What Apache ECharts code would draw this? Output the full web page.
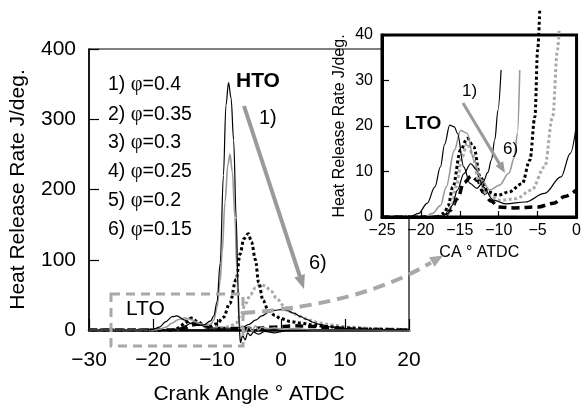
<!DOCTYPE html>
<html><head><meta charset="utf-8">
<script src="https://cdn.jsdelivr.net/npm/echarts@6/dist/echarts.min.js"></script>
<style>html,body{margin:0;padding:0;background:#fff}#c{width:584px;height:410px}</style>
</head><body><div id="c"></div>
<script>
// ---- legend / tick data ----
const legendLabels = ['1) {p|φ}=0.4', '2) {p|φ}=0.35', '3) {p|φ}=0.3', '4) {p|φ}=0.25', '5) {p|φ}=0.2', '6) {p|φ}=0.15'];
const mainXTicks = [-30, -20, -10, 0, 10, 20];
const mainYTicks = [0, 100, 200, 300, 400];
const insetXTicks = [-25, -20, -15, -10, -5, 0];
const insetYTicks = [0, 10, 20, 30, 40];

// ---- main chart: crank angle (deg ATDC) and heat release rate (J/deg) ----
const ca1 = [-30, -24, -21, -20, -19, -18, -17, -16.3, -15, -14, -13, -12, -11, -10.5, -10, -9.5, -9, -8.6, -8.2, -7.8, -7.4, -7, -6.7, -6.5, -6.35, -6, -5.6, -5.2, -4.8, -4.3, -3.5, -2.5, -1, 1, 5, 10, 20];
const hrr1 = [0, 0, 0, 1, 4, 12, 19, 20, 14, 9, 6.5, 7.5, 13, 20, 40, 95, 220, 320, 352, 330, 270, 160, 60, 0, -18, -8, -14, -4, -8, -3, -6, -2, -4, -1, 0, 0, 0];

const ca2 = [-30, -20, -19, -18, -17, -16, -15, -14, -13, -12, -11, -10.5, -10, -9.5, -9.2, -8.75, -8.3, -7.97, -7.6, -7.2, -6.9, -6.6, -6.4, -6, -5.6, -5, -4.5, -4, -3.5, -3, -2, -1, 0, 2, 5, 10, 20, 30];
const hrr2 = [0, 0, 1, 4, 10, 15, 17, 15, 10, 7, 8, 14, 32, 70, 110, 182, 235, 250, 225, 160, 88, 20, 2, 6, -3, 5, -2, 6, 0, 4, 2, 3, 1, 2, 0, 0, -1, -1];

const ca3 = [-30, -17, -16, -15, -14, -13, -12, -11, -10, -9, -8, -7, -6.4, -5.8, -5.1, -4.6, -4, -3.5, -2.8, -2, -1, 0, 1.5, 3, 5, 7, 10, 14, 20];
const hrr3 = [0, 0, 3, 10, 17, 12, 6, 6, 9, 18, 38, 72, 108, 130, 137, 125, 100, 68, 42, 28, 21, 16, 12, 10, 7, 5, 3, 1, 0];

const ca4 = [-30, -16.5, -15.5, -14.5, -14, -13, -12, -11, -10, -9, -8, -7, -6.3, -5.5, -4.8, -4, -3.2, -2.5, -1.5, -0.7, 0.5, 1.5, 3, 4.5, 6, 8, 11, 15, 20];
const hrr4 = [0, 0, 6, 14, 16, 11, 6, 4, 3.5, 3.5, 5, 10, 22, 38, 50, 60, 65, 63, 55, 45, 34, 26, 19, 14, 10, 7, 4, 2, 0.5];

const ca5 = [-30, -17, -16, -15, -14, -13.6, -13, -12, -11, -10, -8, -7, -6, -5, -4, -3, -2, -1, 0, 1, 2, 3, 4, 5, 6, 8, 10, 14, 20];
const hrr5 = [0, 0, 2, 6, 10, 11.5, 9, 5.5, 3, 2.5, 2.5, 3, 4, 8, 14, 20, 25, 28, 29, 27.5, 24, 19.5, 15, 11, 8, 4, 2, 0.8, 0];

const ca6 = [-30, -16, -15, -14, -13, -12, -11, -10, -5, -1, 2, 5, 8, 12, 20];
const hrr6 = [0, 0, 3, 7, 8.5, 5, 3, 2, 2, 4, 6, 5, 3, 1, 0];

// ---- inset (LTO close-up) ----
const ica1 = [-25, -21.5, -20.3, -19.2, -18.2, -17.5, -16.95, -16.3, -15.7, -15.3, -14.5, -13.7, -12.8, -12, -11.4, -10.95, -10.5, -10.1, -9.7];
const ihrr1 = [0, 0, 0.8, 3, 6.6, 11, 16, 20.2, 19.8, 18.4, 11, 7.4, 6.3, 7.7, 9.8, 12.5, 17, 23.5, 32.3];
const ica2 = [-25, -19.5, -18.5, -17.5, -16.75, -15.7, -14.9, -14.05, -13.2, -12.2, -11.15, -9.9, -8.7, -8, -7.6, -7.3];
const ihrr2 = [0, 0, 0.8, 2.5, 6.6, 14.7, 19, 18.4, 12.5, 8.1, 5.9, 7, 9.6, 13, 18.4, 32.3];
const ica3 = [-25, -18, -17, -16.5, -15.9, -14.9, -14.05, -13.2, -12.4, -11.35, -10.1, -8.7, -7, -6, -5.35, -5, -4.73];
const ihrr3 = [0, 0, 0.8, 2.5, 6.6, 14.7, 17.3, 15.4, 8.8, 5.5, 4.8, 5.5, 7.3, 12.5, 22, 36.7, 45.5];
const ica4 = [-25, -17.5, -16.5, -16, -15.5, -14.7, -14.05, -13.4, -12.6, -11.6, -9.9, -7.8, -5.8, -4.1, -3.07, -2.45, -2.24];
const ihrr4 = [0, 0, 0.8, 2.5, 6.6, 13.2, 16.2, 14, 8.1, 5.2, 3.7, 4, 5.9, 11, 22, 36.7, 41];
const ica5 = [-25, -17.5, -16.5, -16, -15.3, -14.5, -13.6, -12.8, -12, -10.7, -9.1, -6.6, -4.1, -2, -0.8, 0];
const ihrr5 = [0, 0, 0.8, 2.5, 5.9, 9.5, 11.7, 10.3, 6.6, 3.7, 2.9, 3.3, 5.2, 8.8, 14, 20.5];
const ica6 = [-25, -17, -16.2, -15.3, -14.5, -13.5, -12.7, -12, -11, -10, -8, -5, -3, -1.5, 0];
const ihrr6 = [0, 0, 1.5, 4, 7.5, 9, 8, 5.5, 3.5, 2.2, 2, 2.2, 3, 4.5, 6];

const FONT = '"Liberation Sans", Arial, Helvetica, sans-serif';
const GREY = '#9a9a9a';
const zip = (xs, ys) => xs.map((x, i) => [x, ys[i]]);
const minus = v => String(v).replace('-', '\u2212');

const styles = [
  { color: '#000', width: 1.2, type: 'solid', z: 7 },
  { color: '#999', width: 1.6, type: 'solid', z: 6 },
  { color: '#000', width: 3, type: [3, 2.5], z: 5 },
  { color: '#aaa', width: 3, type: [3, 2.5], z: 4 },
  { color: '#000', width: 1.2, type: 'solid', z: 5 },
  { color: '#000', width: 3.5, type: [8, 5], z: 3 }
];
const mainData = [zip(ca1, hrr1), zip(ca2, hrr2), zip(ca3, hrr3), zip(ca4, hrr4), zip(ca5, hrr5), zip(ca6, hrr6)];
const insetData = [zip(ica1, ihrr1), zip(ica2, ihrr2), zip(ica3, ihrr3), zip(ica4, ihrr4), zip(ica5, ihrr5), zip(ica6, ihrr6)];

const series = [];
mainData.forEach((d, i) => series.push({
  type: 'line', xAxisIndex: 0, yAxisIndex: 0, data: d, showSymbol: false, symbol: 'none',
  smooth: 0.35, smoothMonotone: 'x', clip: false, z: styles[i].z, animation: false,
  lineStyle: { color: styles[i].color, width: styles[i].width, type: styles[i].type }
}));
insetData.forEach((d, i) => series.push({
  type: 'line', xAxisIndex: 1, yAxisIndex: 1, data: d, showSymbol: false, symbol: 'none',
  smooth: 0.35, smoothMonotone: 'x', clip: false, z: 20 + styles[i].z, animation: false,
  lineStyle: { color: styles[i].color, width: styles[i].width, type: styles[i].type }
}));

function arrowHead(x1, y1, x2, y2, len, w) {
  const a = Math.atan2(y2 - y1, x2 - x1);
  const bx = x2 - len * Math.cos(a), by = y2 - len * Math.sin(a);
  const px = -Math.sin(a) * w / 2, py = Math.cos(a) * w / 2;
  return [[x2, y2], [bx + px, by + py], [bx - px, by - py]];
}
function arrowStop(x1, y1, x2, y2, len) {
  const a = Math.atan2(y2 - y1, x2 - x1);
  return [x2 - len * Math.cos(a), y2 - len * Math.sin(a)];
}
function txt(text, x, y, size, weight, extra) {
  return { type: 'text', z: 50, style: Object.assign({ text, x, y, fontSize: size, fontFamily: FONT,
    fontWeight: weight || 'normal', fill: '#000', verticalAlign: 'middle', align: 'left' }, extra || {}) };
}

const graphics = [];
const legendY = [85, 115, 143, 172, 201, 230];
legendLabels.forEach((t, i) => graphics.push(txt(t, 108, legendY[i], 19.5, 'normal',
  { rich: { p: { fontFamily: '"Liberation Serif", "Times New Roman", serif', fontSize: 20.5 } } })));
graphics.push(txt('HTO', 236, 81, 21, 'bold'));
graphics.push(txt('1)', 259, 118, 20));
graphics.push(txt('6)', 309, 263, 20));
graphics.push(txt('LTO', 126, 309, 21));
graphics.push(txt('LTO', 405, 124, 19, 'bold'));
graphics.push(txt('1)', 462, 91, 17));
graphics.push(txt('6)', 503, 149, 17));

// main grey arrow
(function () {
  const s = arrowStop(244, 106, 304, 289, 10);
  graphics.push({ type: 'line', z: 40, shape: { x1: 244, y1: 106, x2: s[0], y2: s[1] }, style: { stroke: GREY, lineWidth: 4 } });
  graphics.push({ type: 'polygon', z: 40, shape: { points: arrowHead(244, 106, 304, 289, 14, 11) }, style: { fill: GREY } });
})();
// inset grey arrow
(function () {
  const s = arrowStop(463, 103, 505, 173, 8);
  graphics.push({ type: 'line', z: 40, shape: { x1: 463, y1: 103, x2: s[0], y2: s[1] }, style: { stroke: GREY, lineWidth: 3 } });
  graphics.push({ type: 'polygon', z: 40, shape: { points: arrowHead(463, 103, 505, 173, 11, 9) }, style: { fill: GREY } });
})();
// dashed rectangle around LTO
graphics.push({ type: 'rect', z: 40, shape: { x: 111, y: 294, width: 132, height: 52 },
  style: { fill: null, stroke: '#a8a8a8', lineWidth: 3, lineDash: [9, 6] } });
// curved dashed arrow to inset
(function () {
  const sx = 243, sy = 313, cx = 360, cy = 305, ex = 437, ey = 259;
  graphics.push({ type: 'bezierCurve', z: 40, shape: { x1: sx, y1: sy, cpx1: cx, cpy1: cy, x2: ex - 6, y2: ey + 3.6 },
    style: { fill: null, stroke: '#a8a8a8', lineWidth: 4, lineDash: [12, 7] } });
  graphics.push({ type: 'polygon', z: 40, shape: { points: arrowHead(cx, cy, ex + 6, ey - 3.6, 13, 11) }, style: { fill: '#a8a8a8' } });
})();

const axisText = { color: '#000', fontFamily: FONT };
const option = {
  animation: false,
  backgroundColor: '#fff',
  grid: [
    { left: 88, top: 49, width: 321, height: 283, show: true, borderColor: '#000', borderWidth: 1.2, z: 0 },
    { left: 382, top: 35, width: 201, height: 182, show: true, backgroundColor: '#fff', borderColor: '#000', borderWidth: 3, z: 10 }
  ],
  xAxis: [
    { gridIndex: 0, type: 'value', min: mainXTicks[0], max: mainXTicks[mainXTicks.length - 1], interval: 10,
      axisLine: { show: true, onZero: false, lineStyle: { color: '#000', width: 2.5 } },
      axisTick: { show: true, inside: true, length: 11, lineStyle: { color: '#000', width: 1.2 } },
      axisLabel: Object.assign({ fontSize: 21, margin: 20, formatter: minus }, axisText),
      splitLine: { show: false },
      name: 'Crank Angle \u00b0 ATDC', nameLocation: 'middle', nameGap: 54,
      nameTextStyle: Object.assign({ fontSize: 21 }, axisText) },
    { gridIndex: 1, type: 'value', min: insetXTicks[0], max: insetXTicks[insetXTicks.length - 1], interval: 5, z: 30,
      axisLine: { show: true, onZero: false, lineStyle: { color: '#000', width: 3 } },
      axisTick: { show: true, inside: true, length: 6, lineStyle: { color: '#000', width: 1.2 } },
      axisLabel: Object.assign({ fontSize: 16, margin: 6, formatter: minus }, axisText),
      splitLine: { show: false },
      name: 'CA \u00b0 ATDC', nameLocation: 'middle', nameGap: 28,
      nameTextStyle: Object.assign({ fontSize: 16 }, axisText) }
  ],
  yAxis: [
    { gridIndex: 0, type: 'value', min: mainYTicks[0], max: mainYTicks[mainYTicks.length - 1], interval: 100,
      axisLine: { show: true, onZero: false, lineStyle: { color: '#000', width: 1.5 } },
      axisTick: { show: true, inside: true, length: 10, lineStyle: { color: '#000', width: 1.2 } },
      axisLabel: Object.assign({ fontSize: 21, margin: 13 }, axisText),
      splitLine: { show: false },
      name: 'Heat Release Rate J/deg.', nameLocation: 'middle', nameGap: 60, nameRotate: 90,
      nameTextStyle: Object.assign({ fontSize: 21 }, axisText) },
    { gridIndex: 1, type: 'value', min: insetYTicks[0], max: insetYTicks[insetYTicks.length - 1], interval: 10, z: 30,
      axisLine: { show: true, onZero: false, lineStyle: { color: '#000', width: 3 } },
      axisTick: { show: true, inside: true, length: 7, lineStyle: { color: '#000', width: 1.2 } },
      axisLabel: Object.assign({ fontSize: 16, margin: 9 }, axisText),
      splitLine: { show: false },
      name: 'Heat Release Rate J/deg.', nameLocation: 'middle', nameGap: 34, nameRotate: 90,
      nameTextStyle: Object.assign({ fontSize: 16 }, axisText) }
  ],
  series: series,
  graphic: graphics
};
const chart = echarts.init(document.getElementById('c'));
chart.setOption(option);
</script>
</body></html>
